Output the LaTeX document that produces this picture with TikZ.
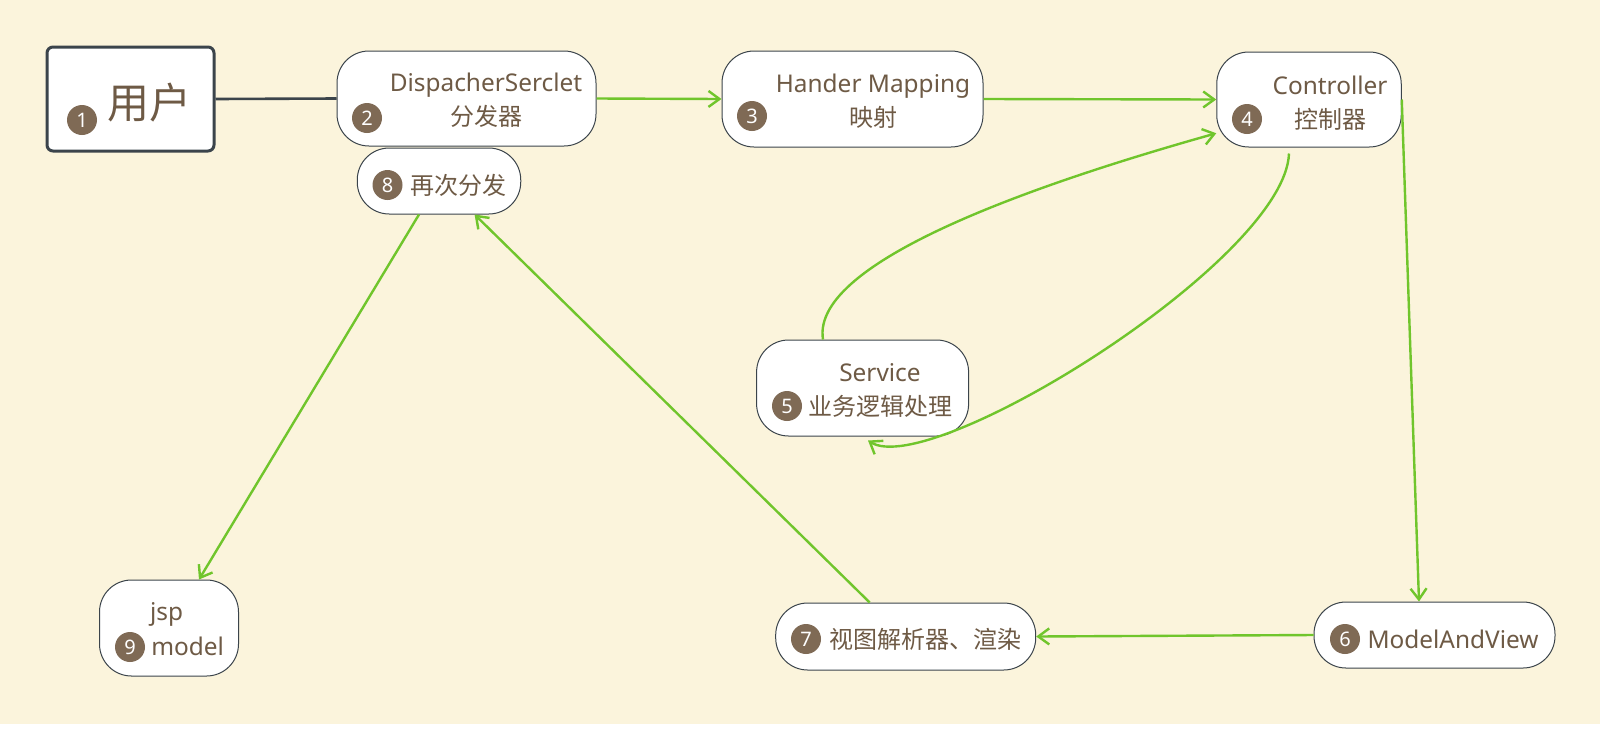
\documentclass[tikz,border=0pt]{standalone}
\usepackage{fontspec}
\setmainfont{Noto Sans}
\newfontfamily\cjk{Noto Sans CJK SC}
\usetikzlibrary{arrows.meta}
\definecolor{bgcol}{HTML}{FBF4DC}
\definecolor{flowcol}{HTML}{70C52C}
\definecolor{txtcol}{HTML}{6E5A45}
\definecolor{numcol}{HTML}{7F6A55}
\definecolor{edgecol}{HTML}{3B444B}
\newcommand{\zhtext}[1]{{\cjk\fontsize{12}{17}\selectfont #1}}

\begin{document}
\begin{tikzpicture}[x=0.5pt, y=-0.5pt,
            box/.style = {shape=rectangle, rounded corners=16pt, draw=edgecol,
                          line width=0.5pt, fill=white, inner sep=0pt},
            num/.style = {circle, fill=numcol, text=white, inner sep=0pt,
                          minimum size=15pt, font=\fontsize{10}{12}\selectfont},
            txt/.style = {text=txtcol, inner sep=0pt, align=center,
                          font=\fontsize{12.2}{17}\selectfont},
            flow/.style = {draw=flowcol, line width=1.2pt,
                           -{Straight Barb[length=5.5pt,width=8pt]}}]
            \useasboundingbox (0,0) rectangle (1611,729);
            \fill[white] (0,0) rectangle (1611,729);
            \fill[bgcol] (0,0) rectangle (1600,724);

            \node[box, rounded corners=3pt, line width=1.5pt,
                  minimum width=83.5pt, minimum height=52pt] (user) at (130.5,99) {};
            \node[box, minimum width=129.5pt, minimum height=47.5pt] (disp) at (466.5,98.5) {};
            \node[box, minimum width=130.5pt, minimum height=48pt] (hmap) at (852.5,99) {};
            \node[box, minimum width=92.25pt, minimum height=47.5pt] (ctrl) at (1309,99.5) {};
            \node[box, minimum width=81.75pt, minimum height=33pt] (again) at (439,181) {};
            \node[box, minimum width=106pt, minimum height=48pt] (serv) at (862.6,388) {};
            \node[box, minimum width=120.5pt, minimum height=33pt] (mav) at (1434.5,635) {};
            \node[box, minimum width=130pt, minimum height=33.5pt] (view) at (905.7,636.5) {};
            \node[box, minimum width=69.5pt, minimum height=48pt] (jsp) at (169,628) {};

            \node[txt, font=\cjk\fontsize{21}{25}\selectfont] (user-t) at (149,103) {用户};
            \node[num] (n1) at (82,120) {1};
            \node[txt] (disp-t) at (486,100) {DispacherSerclet\\\zhtext{分发器}};
            \node[num] (n2) at (367,118) {2};
            \node[txt] (hmap-t) at (873,101) {Hander Mapping\\\zhtext{映射}};
            \node[num] (n3) at (752,116) {3};
            \node[txt] (ctrl-t) at (1330,103) {Controller\\\zhtext{控制器}};
            \node[num] (n4) at (1247,119) {4};
            \node[txt] (again-t) at (458,185) {\zhtext{再次分发}};
            \node[num] (n8) at (387.5,185) {8};
            \node[txt] (serv-t) at (880,390) {Service\\\zhtext{业务逻辑处理}};
            \node[num] (n5) at (787,406) {5};
            \node[txt] (mav-t) at (1453,639) {ModelAndView};
            \node[num] (n6) at (1345,639) {6};
            \node[txt] (view-t) at (925,639) {\zhtext{视图解析器、渲染}};
            \node[num] (n7) at (806,639) {7};
            \node[txt] (jsp-t) at (166.6,614) {jsp};
            \node[txt] (model-t) at (187.6,646) {model};
            \node[num] (n9) at (130,647) {9};

            \draw[draw=edgecol, line width=1.3pt] (user.east) -- (disp.west);
            \draw[flow] (disp.east) -- (hmap.west);
            \draw[flow] (hmap.east) -- (ctrl.west);
            \draw[flow] ([xshift=-19.8pt]serv.north) .. controls +(-13,-80) and +(-167,47) .. (ctrl.200);
            \draw[flow] ([xshift=-10pt,yshift=-3pt]ctrl.south) .. controls +(-4,107) and +(62,40) .. ([xshift=2.7pt,yshift=-2pt]serv.south);
            \draw[flow] (ctrl.east) -- ([xshift=-7.75pt]mav.north);
            \draw[flow] (mav.west) -- (view.east);
            \draw[flow] ([xshift=-18pt]view.north) -- ([xshift=17.8pt]again.south);
            \draw[flow] ([xshift=-10pt]again.south) -- ([xshift=15pt]jsp.north);
        \end{tikzpicture}
\end{document}
